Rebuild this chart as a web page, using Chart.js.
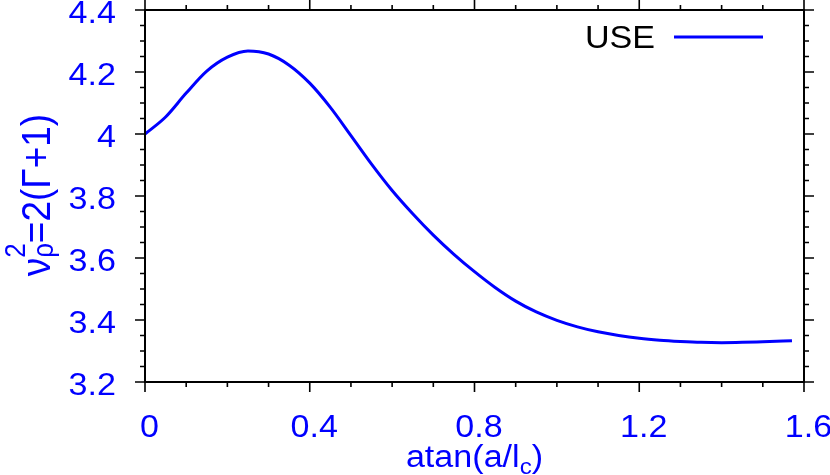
<!DOCTYPE html>
<html>
<head>
<meta charset="utf-8">
<script src="https://cdn.jsdelivr.net/npm/chart.js@4/dist/chart.umd.min.js"></script>
<style>
  html, body { margin: 0; padding: 0; background: #fff; }
  #c { display: block; }
</style>
</head>
<body>
<canvas id="c" width="830" height="475"></canvas>
<script>
/* values */
const xVals  = [0, 0.05, 0.1, 0.15, 0.2, 0.25, 0.3, 0.35, 0.4, 0.45, 0.5, 0.55, 0.6, 0.65, 0.7, 0.75,
                0.8, 0.85, 0.9, 0.95, 1.0, 1.05, 1.1, 1.15, 1.2, 1.25, 1.3, 1.35, 1.4, 1.45, 1.5, 1.5708];
const nuVals = [4.000, 4.055, 4.132, 4.203, 4.248, 4.268, 4.258, 4.222, 4.164, 4.086, 3.995, 3.903, 3.818, 3.743, 3.674, 3.612,
                3.556, 3.505, 3.461, 3.426, 3.399, 3.378, 3.362, 3.350, 3.341, 3.335, 3.331, 3.328, 3.327, 3.328, 3.330, 3.333];
const seriesLabel = "USE";

const xTicks = [0, 0.4, 0.8, 1.2, 1.6];
const xTickLabels = ["0", "0.4", "0.8", "1.2", "1.6"];
const yTicks = [3.2, 3.4, 3.6, 3.8, 4.0, 4.2, 4.4];
const yTickLabels = ["3.2", "3.4", "3.6", "3.8", "4", "4.2", "4.4"];

const BLUE = "#0000ff";
const FONT = '"Liberation Sans", Arial, Helvetica, sans-serif';
const SX = 1.1; // text in the reference is a little wide

function font(sz) { return sz + "px " + FONT; }

// draw a run of text pieces (main / sub / sup) starting at local x=0
function runsWidth(ctx, runs) {
  let w = 0;
  runs.forEach(function (r) { ctx.font = font(r.size); if (r.adv !== false) w += ctx.measureText(r.t).width; });
  return w;
}
function drawRuns(ctx, runs, x0) {
  let x = x0;
  runs.forEach(function (r) {
    ctx.font = font(r.size);
    ctx.fillText(r.t, x, r.dy || 0);
    if (r.adv !== false) x += ctx.measureText(r.t).width;
  });
}

const frame = {
  id: "frame",
  afterDraw: function (chart) {
    const ctx = chart.ctx, a = chart.chartArea;
    const xs = chart.scales.x, ys = chart.scales.y;
    ctx.save();
    ctx.strokeStyle = "#000";
    ctx.lineWidth = 2;
    ctx.strokeRect(a.left, a.top, a.right - a.left, a.bottom - a.top);

    // ticks, all pointing outward
    ctx.lineWidth = 1.6;
    ctx.beginPath();
    for (let i = 0; i <= 16; i++) {
      const px = xs.getPixelForValue(i / 10);
      const len = (i % 4 === 0) ? 10 : 5;
      ctx.moveTo(px, a.bottom); ctx.lineTo(px, a.bottom + len);
      ctx.moveTo(px, a.top); ctx.lineTo(px, a.top - len);
    }
    for (let i = 0; i <= 24; i++) {
      const py = ys.getPixelForValue(3.2 + i * 0.05);
      const len = (i % 4 === 0) ? 10 : 5;
      ctx.moveTo(a.left, py); ctx.lineTo(a.left - len, py);
      ctx.moveTo(a.right, py); ctx.lineTo(a.right + len, py);
    }
    ctx.stroke();

    ctx.fillStyle = BLUE;
    ctx.textBaseline = "alphabetic";
    // x tick labels
    ctx.font = font(31);
    xTicks.forEach(function (v, i) {
      const w = ctx.measureText(xTickLabels[i]).width * SX;
      ctx.save();
      ctx.translate(xs.getPixelForValue(v) + 4.5 - w / 2, 437);
      ctx.scale(SX, 1);
      ctx.fillText(xTickLabels[i], 0, 0);
      ctx.restore();
    });
    // y tick labels
    yTicks.forEach(function (v, i) {
      const w = ctx.measureText(yTickLabels[i]).width * SX;
      ctx.save();
      ctx.translate(116 - w, ys.getPixelForValue(v) + 12.5);
      ctx.scale(SX, 1);
      ctx.fillText(yTickLabels[i], 0, 0);
      ctx.restore();
    });

    // x title: atan(a/l_c)
    const xt = [{ t: "atan(a/l", size: 31 }, { t: "c", size: 22, dy: 7 }, { t: ")", size: 31 }];
    const xw = runsWidth(ctx, xt) * SX;
    ctx.save();
    ctx.translate((a.left + a.right) / 2 - xw / 2, 466.5);
    ctx.scale(SX, 1);
    drawRuns(ctx, xt, 0);
    ctx.restore();

    // y title: nu_rho^2 = 2(Gamma+1), rotated
    const yt = [
      { t: "\u03bd", size: 37 },
      { t: "\u03c1", size: 26, dy: 3, adv: false },
      { t: "2", size: 26, dy: -22.5 },
      { t: "=2(\u0393+1)", size: 37 }
    ];
    const yw = runsWidth(ctx, yt);
    ctx.save();
    ctx.translate(50, (a.top + a.bottom) / 2 - 1);
    ctx.scale(SX, 1);
    ctx.rotate(-Math.PI / 2);
    drawRuns(ctx, yt, -yw / 2);
    ctx.restore();

    // key
    ctx.fillStyle = "#000";
    ctx.font = font(31);
    const kw = ctx.measureText(chart.data.datasets[0].label).width * SX;
    ctx.save();
    ctx.translate(655 - kw, 48);
    ctx.scale(SX, 1);
    ctx.fillText(chart.data.datasets[0].label, 0, 0);
    ctx.restore();
    ctx.strokeStyle = BLUE;
    ctx.lineWidth = 3;
    ctx.beginPath();
    ctx.moveTo(674, 37); ctx.lineTo(763, 37);
    ctx.stroke();
    ctx.restore();
  }
};

new Chart(document.getElementById("c"), {
  type: "line",
  data: {
    datasets: [{
      label: seriesLabel,
      data: xVals.map(function (x, i) { return { x: x, y: nuVals[i] }; }),
      borderColor: BLUE, borderWidth: 3,
      pointRadius: 0, fill: false,
      cubicInterpolationMode: "monotone",
    }]
  },
  options: {
    responsive: false, animation: false, devicePixelRatio: 1,
    layout: { padding: { left: 145, right: 26, top: 10, bottom: 93 } },
    plugins: { legend: { display: false }, tooltip: { enabled: false } },
    scales: {
      x: { type: "linear", min: 0, max: 1.6, display: false },
      y: { type: "linear", min: 3.2, max: 4.4, display: false }
    }
  },
  plugins: [frame]
});
</script>
</body>
</html>
